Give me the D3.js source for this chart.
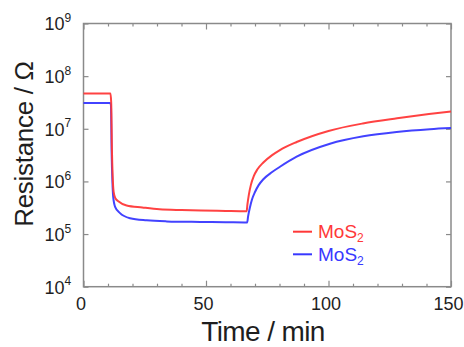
<!DOCTYPE html>
<html>
<head>
<meta charset="utf-8">
<script src="https://cdn.jsdelivr.net/npm/d3@7"></script>
<style>
  html, body { margin: 0; padding: 0; background: #fff; }
  svg { display: block; }
  text { font-family: "Liberation Sans", Arial, sans-serif; }
</style>
</head>
<body>
<svg id="chart" width="464" height="347"></svg>
<script>
// ---- data ----
const redTime = [0, 11.0, 11.3, 11.6, 11.9, 12.3, 13.0, 14.2, 17.6, 24, 31, 40, 48, 58, 66.6, 66.9, 67.5, 68.3, 69.5, 71, 73.4, 77, 80, 87, 100, 114, 128, 141, 150];
const redRes  = [4.68e7, 4.68e7, 3.2e7, 4.0e6, 1.26e6, 6.3e5, 4.8e5, 4.2e5, 3.5e5, 3.2e5, 2.95e5, 2.85e5, 2.8e5, 2.75e5, 2.72e5, 3.63e5, 5.62e5, 8.5e5, 1.26e6, 1.7e6, 2.29e6, 3.16e6, 3.9e6, 5.6e6, 9.1e6, 1.26e7, 1.58e7, 1.9e7, 2.14e7];
const blueTime = [0, 10.9, 11.2, 11.5, 11.8, 12.1, 12.9, 14.9, 19, 25.8, 34, 47.6, 58, 66.8, 67.2, 67.9, 68.8, 70, 71.5, 73.4, 77, 80.2, 87, 100.6, 114.2, 127.8, 141.4, 150];
const blueRes  = [3.1e7, 3.1e7, 2.8e7, 3.2e6, 1.0e6, 5.2e5, 3.3e5, 2.5e5, 2.0e5, 1.82e5, 1.74e5, 1.7e5, 1.68e5, 1.66e5, 2.19e5, 3.16e5, 4.57e5, 6.3e5, 8.5e5, 1.1e6, 1.51e6, 1.9e6, 2.95e6, 5.2e6, 7.2e6, 8.7e6, 9.8e6, 1.03e7];
const seriesNames = ["MoS", "MoS"];
const xMajorTicks = [0, 50, 100, 150];
const xMinorTicks = [10, 20, 30, 40, 60, 70, 80, 90, 110, 120, 130, 140];
const yTicks = [1e4, 1e5, 1e6, 1e7, 1e8, 1e9];
const yTickExponents = ["4", "5", "6", "7", "8", "9"];
const xTitle = "Time / min";
const yTitle = "Resistance / Ω";

// ---- layout ----
const L = 83.5, R = 451, T = 23.5, B = 286.7;
const red = "#ff3838", blue = "#3838ff", frameCol = "#8a8a8a", textCol = "#1e1e1e";

const svg = d3.select("#chart");
const x = d3.scaleLinear().domain([0, 150]).range([L, R]);
const y = d3.scaleLog().domain([1e4, 1e9]).range([B, T]);

function styleAxis(g) {
  g.select(".domain").remove();
  g.selectAll(".tick line").attr("stroke", frameCol).attr("stroke-width", 1.2);
}
svg.append("g").attr("transform", `translate(0,${B})`)
  .call(d3.axisBottom(x).tickValues(xMinorTicks).tickSize(-3).tickFormat(""))
  .call(styleAxis);
svg.append("g").attr("transform", `translate(0,${T})`)
  .call(d3.axisTop(x).tickValues(xMinorTicks).tickSize(-3).tickFormat(""))
  .call(styleAxis);
svg.append("g").attr("transform", `translate(0,${T})`)
  .call(d3.axisTop(x).tickValues(xMajorTicks).tickSize(-6).tickFormat(""))
  .call(styleAxis);
const xb = svg.append("g").attr("transform", `translate(0,${B})`)
  .call(d3.axisBottom(x).tickValues(xMajorTicks).tickSize(-6).tickPadding(0).tickFormat(d3.format("d")))
  .call(styleAxis);
xb.selectAll(".tick text")
  .attr("fill", textCol).attr("font-size", 18).attr("font-family", "Liberation Sans, Arial, sans-serif")
  .attr("dy", null).attr("y", 23).attr("x", -3);

svg.append("g").attr("transform", `translate(${R},0)`)
  .call(d3.axisRight(y).tickValues(yTicks).tickSize(-5).tickFormat(""))
  .call(styleAxis);
const yl = svg.append("g").attr("transform", `translate(${L},0)`)
  .call(d3.axisLeft(y).tickValues(yTicks).tickSize(-5).tickPadding(0).tickFormat(() => "10"))
  .call(styleAxis);
yl.selectAll(".tick text")
  .attr("fill", textCol).attr("font-size", 18).attr("font-family", "Liberation Sans, Arial, sans-serif")
  .attr("text-anchor", "start").attr("x", -39).attr("dy", "0.36em")
  .each(function(d, i) {
    const t = d3.select(this);
    t.text(null);
    t.append("tspan").text("10");
    t.append("tspan").attr("font-size", 12).attr("dy", "-0.7em").text(yTickExponents[i]);
  });

// frame
svg.append("rect").attr("x", L).attr("y", T).attr("width", R - L).attr("height", B - T)
  .attr("fill", "none").attr("stroke", frameCol).attr("stroke-width", 1.5);

// lines
const line = d3.line().x(d => x(d[0])).y(d => y(d[1])).curve(d3.curveMonotoneX);
const redData = redTime.map((t, i) => [t, redRes[i]]);
const blueData = blueTime.map((t, i) => [t, blueRes[i]]);
svg.append("path").datum(blueData).attr("d", line)
  .attr("fill", "none").attr("stroke", blue).attr("stroke-width", 2).attr("stroke-opacity", 0.95);
svg.append("path").datum(redData).attr("d", line)
  .attr("fill", "none").attr("stroke", red).attr("stroke-width", 2).attr("stroke-opacity", 0.95);

// legend
const legend = [{c: red, n: seriesNames[0], y: 231.7}, {c: blue, n: seriesNames[1], y: 254.3}];
legend.forEach(d => {
  svg.append("line").attr("x1", 293).attr("x2", 312).attr("y1", d.y).attr("y2", d.y)
    .attr("stroke", d.c).attr("stroke-width", 2);
  const t = svg.append("text").attr("x", 318).attr("y", d.y + 6.5)
    .attr("fill", d.c).attr("font-size", 19);
  t.append("tspan").text(d.n);
  t.append("tspan").attr("font-size", 12).attr("dy", "0.35em").text("2");
});

// axis titles
svg.append("text").attr("x", 263).attr("y", 341).attr("text-anchor", "middle")
  .attr("font-size", 28).attr("letter-spacing", -0.6).attr("fill", textCol).text(xTitle);
svg.append("text").attr("transform", `translate(33,144) rotate(-90)`).attr("text-anchor", "middle")
  .attr("font-size", 26).attr("letter-spacing", -0.3).attr("fill", textCol).text(yTitle);
</script>
</body>
</html>
